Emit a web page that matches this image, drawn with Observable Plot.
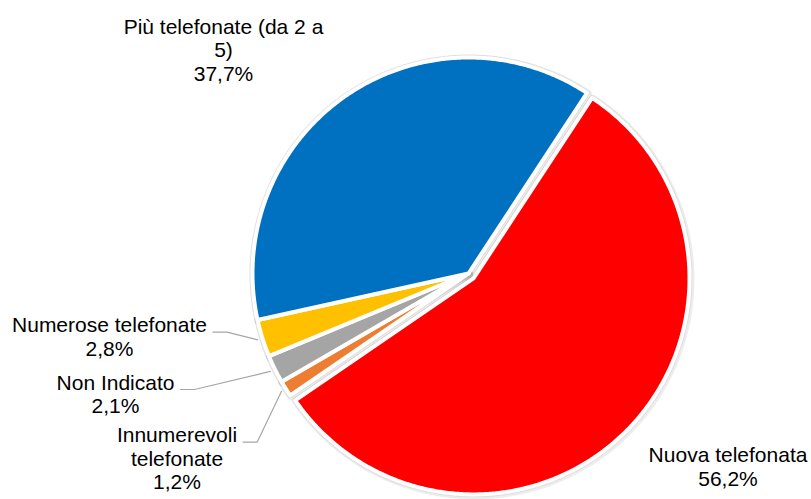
<!DOCTYPE html>
<html><head><meta charset="utf-8">
<script src="https://cdn.jsdelivr.net/npm/d3@7"></script>
<script src="https://cdn.jsdelivr.net/npm/@observablehq/plot@0.6"></script>
<style>html,body{margin:0;padding:0;background:#fff}</style>
</head><body><div id="chart"></div>
<script>
// ---- data ----
const categories = ["Nuova telefonata", "Innumerevoli telefonate", "Non Indicato", "Numerose telefonate", "Più telefonate (da 2 a 5)"];
const values = [56.2, 1.2, 2.1, 2.8, 37.7];
const labelTexts = ["Nuova telefonata\n56,2%", "Innumerevoli\ntelefonate\n1,2%", "Non Indicato\n2,1%", "Numerose telefonate\n2,8%", "Più telefonate (da 2 a\n5)\n37,7%"];
const colors = ["#ff0000", "#ed7d31", "#a5a5a5", "#ffc000", "#0070c0"];

// ---- layout ----
const W = 811, H = 499;
const cx = 468, cy = 273, R = 216;
const startDeg = 33.3;
const explodePx = [7, 0, 0, 0, 0];
const fontSize = 21, lineHeight = 1.12;
const fontFamily = "'Liberation Sans', Arial, sans-serif";
// label center x / first-line baseline (pixels)
const labelAnchors = [[727.5, 461.5], [176.5, 441.7], [115, 389], [109, 331.7], [223, 33.3]];
const hasLeader = [false, true, true, true, false];

const ux = px => (px - cx) / R;
const uy = py => (cy - py) / R;

const rows = categories.map((c, i) => ({key: c, value: values[i], color: colors[i], label: labelTexts[i], i}));
const start = startDeg * Math.PI / 180;
const arcs = d3.pie().sort(null).value(d => d.value).startAngle(start).endAngle(start + 2 * Math.PI)(rows);

const slices = arcs.map(a => {
  const mid = (a.startAngle + a.endAngle) / 2;
  const off = explodePx[a.data.i] / R;
  const ox = Math.sin(mid) * off, oy = Math.cos(mid) * off;
  const pts = [{x: ox, y: oy}];
  const n = Math.max(2, Math.ceil((a.endAngle - a.startAngle) / (0.4 * Math.PI / 180)));
  for (let k = 0; k <= n; ++k) {
    const t = a.startAngle + (a.endAngle - a.startAngle) * k / n;
    pts.push({x: ox + Math.sin(t), y: oy + Math.cos(t)});
  }
  return {arc: a, mid, pts, color: a.data.color};
});

// text measurement for leader starts
const ctx = document.createElement("canvas").getContext("2d");
ctx.font = `${fontSize}px ${fontFamily}`;

const labels = rows.map((r, i) => ({
  text: r.label,
  x: ux(labelAnchors[i][0]),
  y: uy(labelAnchors[i][1] - 0.71 * lineHeight * fontSize)
}));

const leaders = [];
slices.forEach(s => {
  const i = s.arc.data.i;
  if (!hasLeader[i]) return;
  const firstLine = rows[i].label.split("\n")[0];
  const w = ctx.measureText(firstLine).width;
  const sx = labelAnchors[i][0] + w / 2 + 6, sy = labelAnchors[i][1];
  const rr = 1 + 5 / R;
  const pts = [
    {x: ux(sx), y: uy(sy)},
    {x: ux(sx + 14), y: uy(sy)},
    {x: Math.sin(s.mid) * rr, y: Math.cos(s.mid) * rr}
  ];
  leaders.push(pts);
});

const marks = [];
// soft shadow
slices.forEach(s => marks.push(Plot.line(s.pts, {x: "x", y: "y", curve: "linear-closed", fill: "none", stroke: "#000", strokeOpacity: 0.07, strokeWidth: 8, dx: 1, dy: 1})));
slices.forEach(s => marks.push(Plot.line(s.pts, {x: "x", y: "y", curve: "linear-closed", fill: "none", stroke: "#000", strokeOpacity: 0.06, strokeWidth: 6})));
// slices
slices.forEach(s => marks.push(Plot.line(s.pts, {x: "x", y: "y", curve: "linear-closed", fill: s.color, stroke: "#fff", strokeWidth: 4, strokeLinejoin: "round"})));
// leader lines
leaders.forEach(p => marks.push(Plot.line(p, {x: "x", y: "y", stroke: "#a6a6a6", strokeWidth: 1.2})));
// labels
marks.push(Plot.text(labels, {x: "x", y: "y", text: "text", fontSize, lineHeight, lineAnchor: "top", textAnchor: "middle", fill: "#000", fontFamily}));

const chart = Plot.plot({
  width: W, height: H,
  marginTop: 0, marginRight: 0, marginBottom: 0, marginLeft: 0,
  x: {domain: [ux(0), ux(W)], range: [0, W], axis: null},
  y: {domain: [uy(H), uy(0)], range: [H, 0], axis: null},
  style: {background: "#fff", fontFamily},
  marks
});
document.getElementById("chart").appendChild(chart);
</script>
</body></html>
